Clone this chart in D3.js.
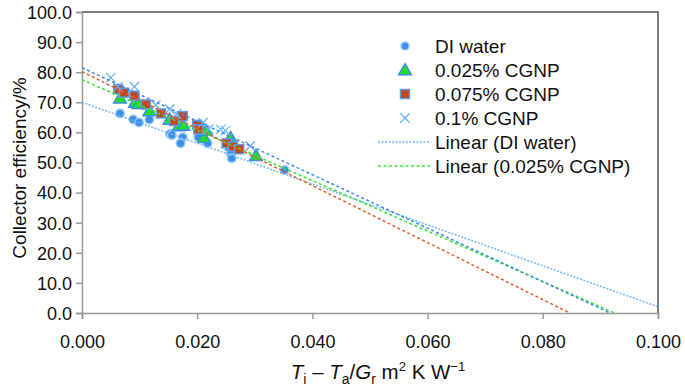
<!DOCTYPE html>
<html><head><meta charset="utf-8">
<script src="https://cdn.jsdelivr.net/npm/d3@7"></script>
<style>body{margin:0;background:#fff}svg{display:block;font-family:"Liberation Sans",Arial,sans-serif}</style>
</head><body><svg id="c" width="685" height="390"></svg>
<script>
// data
const diWater = [[0.0066,66.3],[0.0089,64.3],[0.0099,63.3],[0.0117,64.3],[0.0153,59.5],[0.0156,59.1],[0.0175,58.4],[0.0171,56.4],[0.0202,58.4],[0.0218,56.4],[0.0258,53.0],[0.0260,51.4],[0.0352,47.5]];
const cgnp025 = [[0.0066,71.3],[0.0092,69.9],[0.0098,69.5],[0.0117,67.1],[0.0152,64.3],[0.0168,62.1],[0.0176,62.3],[0.0212,58.2],[0.0215,60.6],[0.0258,58.2],[0.0260,55.8],[0.0302,52.2]];
const cgnp075 = [[0.0063,74.3],[0.0073,73.2],[0.0091,72.2],[0.0111,69.3],[0.0137,66.3],[0.0160,63.8],[0.0175,65.4],[0.0200,62.5],[0.0202,61.0],[0.0251,56.4],[0.0262,55.3],[0.0273,54.4]];
const cgnp1 = [[0.0050,78.2],[0.0062,75.2],[0.0091,75.2],[0.0128,69.1],[0.0152,67.7],[0.0164,66.1],[0.0210,63.2],[0.0220,61.1],[0.0241,61.0],[0.0249,60.6],[0.0292,55.5]];
// trendlines: [intercept, slope]
const trendDI = [70.0, -679];
const trend025 = [77.5, -838];
const trend075 = [80.2, -947];
const trend1 = [81.5, -889];
const xTicks = [0,0.02,0.04,0.06,0.08,0.1];
const yTicks = [0,10,20,30,40,50,60,70,80,90,100];
const legendLabels = ["DI water","0.025% CGNP","0.075% CGNP","0.1% CGNP","Linear (DI water)","Linear (0.025% CGNP)"];

const svg = d3.select("#c");
const L=82,R=658,T=12,B=313;
const x = d3.scaleLinear().domain([0,0.1]).range([L,R]);
const y = d3.scaleLinear().domain([0,100]).range([B,T]);

// border top/right
svg.append("path").attr("d",`M${L},${T}H${R}V${B}`).attr("fill","none").attr("stroke","#555").attr("stroke-width",1.5);

const xa = svg.append("g").attr("transform",`translate(0,${B})`)
  .call(d3.axisBottom(x).tickValues(xTicks).tickFormat(d3.format(".3f")).tickSizeOuter(0).tickSize(6));
const ya = svg.append("g").attr("transform",`translate(${L},0)`)
  .call(d3.axisLeft(y).tickValues(yTicks).tickFormat(d3.format(".1f")).tickSizeOuter(0).tickSize(6));
[xa,ya].forEach(a=>{a.select(".domain").attr("stroke","#999").attr("stroke-width",1.5);
  a.selectAll(".tick line").attr("stroke","#999").attr("stroke-width",1.5);
  a.selectAll("text").attr("font-size",18).attr("fill","#111").attr("font-family","Liberation Sans, Arial, sans-serif");});
xa.selectAll("text").attr("dy","1.45em");
ya.selectAll("text").attr("x",-10).attr("dy","0.35em");

// markers
const g = svg.append("g");
g.selectAll(".di").data(diWater).join("circle").attr("cx",d=>x(d[0])).attr("cy",d=>y(d[1])).attr("r",4.3)
  .attr("fill","#3b8fe8").attr("stroke","#9ccaf5").attr("stroke-width",1.5);
const tri = d3.symbol().type(d3.symbolTriangle).size(70);
g.selectAll(".t").data(cgnp025).join("path").attr("d",tri).attr("transform",d=>`translate(${x(d[0])},${y(d[1])+1})`)
  .attr("fill","#22dd22").attr("stroke","#3b8fe8").attr("stroke-width",1.5);
g.selectAll(".s").data(cgnp075).join("rect").attr("x",d=>x(d[0])-4.5).attr("y",d=>y(d[1])-4.5).attr("width",9).attr("height",9)
  .attr("fill","#c2461a").attr("stroke","#5d9de6").attr("stroke-width",1.5);
const cross = d3.symbol().type(d3.symbolX).size(60);
g.selectAll(".x").data(cgnp1).join("path").attr("d",cross).attr("transform",d=>`translate(${x(d[0])},${y(d[1])})`)
  .attr("fill","none").attr("stroke","#6ab2f2").attr("stroke-width",1.3);

// trendlines
function trend(p){const x1=Math.min(0.1,-p[0]/p[1]);return [[0,p[0]],[x1,p[0]+p[1]*x1]];}
const line = d3.line().x(d=>x(d[0])).y(d=>y(d[1]));
const trends=[[trendDI,"#74b6f5","2,1.5"],[trend025,"#33e633","3,2.5"],[trend075,"#e0602c","3,2.5"],[trend1,"#3f8be8","3,2.5"]];
trends.forEach(t=>svg.append("path").attr("d",line(trend(t[0]))).attr("fill","none").attr("stroke",t[1]).attr("stroke-width",1.5).attr("stroke-dasharray",t[2]));

// legend
const lg = svg.append("g").attr("font-size",19).attr("fill","#111");
const ly0=46, ldy=24, lx=405, tx=435;
legendLabels.forEach((s,i)=>lg.append("text").attr("x",tx).attr("y",ly0+i*ldy).attr("dy","0.35em").text(s));
lg.append("circle").attr("cx",lx).attr("cy",ly0).attr("r",4).attr("fill","#3b8fe8").attr("stroke","#9ccaf5").attr("stroke-width",1.5);
lg.append("path").attr("d",tri).attr("transform",`translate(${lx},${ly0+ldy+1})`).attr("fill","#22dd22").attr("stroke","#3b8fe8").attr("stroke-width",1.5);
lg.append("rect").attr("x",lx-4.5).attr("y",ly0+2*ldy-4.5).attr("width",9).attr("height",9).attr("fill","#c2461a").attr("stroke","#5d9de6").attr("stroke-width",1.5);
lg.append("path").attr("d",cross).attr("transform",`translate(${lx},${ly0+3*ldy})`).attr("fill","none").attr("stroke","#6ab2f2").attr("stroke-width",1.3);
lg.append("line").attr("x1",378).attr("x2",430).attr("y1",ly0+4*ldy).attr("y2",ly0+4*ldy).attr("stroke","#74b6f5").attr("stroke-width",1.5).attr("stroke-dasharray","2,1.5");
lg.append("line").attr("x1",378).attr("x2",430).attr("y1",ly0+5*ldy).attr("y2",ly0+5*ldy).attr("stroke","#33e633").attr("stroke-width",1.5).attr("stroke-dasharray","3,2.5");

// axis titles
svg.append("text").attr("transform","translate(19,168) rotate(-90)").attr("text-anchor","middle").attr("dy","0.35em")
  .attr("font-size",19).attr("fill","#111").text("Collector efficiency/%");
const xt = svg.append("text").attr("x",378).attr("y",379).attr("text-anchor","middle").attr("font-size",20.5).attr("fill","#111");
xt.append("tspan").attr("font-style","italic").text("T");
xt.append("tspan").attr("font-size",14).attr("dy",5).text("i");
xt.append("tspan").attr("dy",-5).text(" – ");
xt.append("tspan").attr("font-style","italic").text("T");
xt.append("tspan").attr("font-size",14).attr("dy",5).text("a");
xt.append("tspan").attr("dy",-5).text("/");
xt.append("tspan").attr("font-style","italic").text("G");
xt.append("tspan").attr("font-size",14).attr("dy",5).text("r");
xt.append("tspan").attr("dy",-5).text(" m");
xt.append("tspan").attr("font-size",13).attr("dy",-8).text("2");
xt.append("tspan").attr("dy",8).text(" K W");
xt.append("tspan").attr("font-size",13).attr("dy",-8).text("−1");
</script></body></html>
